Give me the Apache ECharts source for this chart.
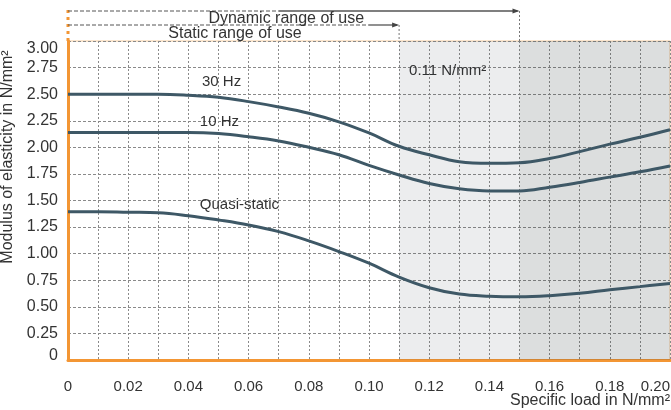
<!DOCTYPE html>
<html>
<head>
<meta charset="utf-8">
<script src="https://cdn.jsdelivr.net/npm/echarts@6/dist/echarts.min.js"></script>
<style>
  html, body { margin: 0; padding: 0; background: #fff; }
  #main { width: 671px; height: 410px; }
</style>
</head>
<body>
<div id="main"></div>
<script>
// specific load in N/mm2
var loads = [0, 0.01, 0.02, 0.03, 0.04, 0.05, 0.06, 0.07, 0.08, 0.09, 0.10,
             0.11, 0.12, 0.13, 0.14, 0.15, 0.16, 0.17, 0.18, 0.19, 0.20];
// modulus of elasticity in N/mm2
var hz30 = [2.50, 2.50, 2.50, 2.50, 2.49, 2.47, 2.43, 2.38, 2.32, 2.24, 2.135,
            2.01, 1.93, 1.865, 1.85, 1.855, 1.895, 1.96, 2.03, 2.095, 2.165];
var hz10 = [2.14, 2.14, 2.14, 2.14, 2.14, 2.13, 2.10, 2.06, 2.00, 1.93, 1.83,
            1.74, 1.66, 1.61, 1.59, 1.59, 1.625, 1.67, 1.72, 1.77, 1.825];
var quasiStatic = [1.395, 1.395, 1.39, 1.385, 1.357, 1.317, 1.27, 1.207, 1.12, 1.02, 0.91,
                   0.78, 0.68, 0.62, 0.60, 0.595, 0.605, 0.627, 0.66, 0.69, 0.72];
var seriesNames = ['30 Hz', '10 Hz', 'Quasi-static'];
// ranges of use (x values)
var staticLimit = 0.11;
var dynamicLimit = 0.15;
var xMax = 0.20;

var ORANGE = '#f39634';
var CURVE = '#3e5866';
var TEXT = '#333';
var FONT = 'Liberation Sans';

function pairs(ys) {
    return loads.map(function (x, i) { return [x, ys[i]]; });
}

var chart = echarts.init(document.getElementById('main'));

function curve(name, ys) {
    return {
        name: name,
        type: 'line',
        data: pairs(ys),
        smooth: 0.4,
        symbol: 'none',
        lineStyle: { color: CURVE, width: 3 },
        z: 3
    };
}

var shade = {
    type: 'line',
    data: [],
    silent: true,
    markArea: {
        silent: true,
        data: [
            [{ xAxis: staticLimit, itemStyle: { color: 'rgba(40,50,60,0.085)' } }, { xAxis: dynamicLimit }],
            [{ xAxis: dynamicLimit, itemStyle: { color: 'rgba(40,50,50,0.16)' } }, { xAxis: xMax }]
        ]
    }
};

chart.setOption({
    animation: false,
    textStyle: { fontFamily: FONT },
    grid: {
        left: 68, right: 1, top: 41, bottom: 50,
        containLabel: false,
        outerBoundsMode: 'none',
        show: true, borderColor: '#f4cb9c', borderWidth: 1
    },
    xAxis: {
        type: 'value',
        min: 0, max: xMax, interval: 0.01,
        axisLine: { lineStyle: { color: ORANGE, width: 3 } },
        axisTick: { show: false },
        axisLabel: {
            color: TEXT, fontSize: 15, margin: 19,
            alignMaxLabel: 'right',
            formatter: function (v) {
                var k = Math.round(v * 100);
                if (k % 2) return '';
                return k === 0 ? '0' : (k / 100).toFixed(2);
            }
        },
        splitLine: { show: true, lineStyle: { color: '#8a8a8a', type: [2, 2], width: 1 } }
    },
    yAxis: {
        type: 'value',
        min: 0, max: 3, interval: 0.25,
        name: 'Modulus of elasticity in N/mm²',
        nameLocation: 'middle',
        nameGap: 48,
        nameTextStyle: { color: TEXT, fontSize: 16, padding: [0, 0, 0, 87] },
        axisLine: { show: true, lineStyle: { color: ORANGE, width: 3 } },
        axisTick: { show: false },
        axisLabel: {
            color: TEXT, fontSize: 16, margin: 10,
            formatter: function (v) {
                if (v === 0) return '{bot|0}';
                if (v === 3) return '{top|3.00}';
                return v.toFixed(2);
            },
            rich: {
                top: { fontSize: 16, color: TEXT, padding: [16, 0, 0, 0] },
                bot: { fontSize: 16, color: TEXT, padding: [0, 0, 8, 0] }
            }
        },
        splitLine: { show: true, lineStyle: { color: '#8a8a8a', type: [3, 2], width: 1 } }
    },
    series: [
        shade,
        curve(seriesNames[0], hz30),
        curve(seriesNames[1], hz10),
        curve(seriesNames[2], quasiStatic)
    ]
});

// annotations placed from axis coordinates
function px(x, y) { return chart.convertToPixel({ gridIndex: 0 }, [x, y]); }
var x0 = px(0, 0)[0];
var xEnd = px(xMax, 0)[0];
var yAxisPos = px(0, 0)[1];
var plotTop = px(0, 3)[1];
var xStat = px(staticLimit, 0)[0];
var xDyn = px(dynamicLimit, 0)[0];
var yDyn = 11, yStat = 25;

function hline(x1, x2, y, dash, w) {
    return { type: 'line', shape: { x1: x1, y1: y, x2: x2, y2: y },
             style: { stroke: '#555', lineWidth: w || 1, lineDash: dash || null } };
}
function vline(x, y1, y2) {
    return { type: 'line', shape: { x1: x, y1: y1, x2: x, y2: y2 },
             style: { stroke: '#777', lineWidth: 1, lineDash: [2, 2] } };
}
function arrow(x, y) {
    return { type: 'polygon', shape: { points: [[x, y], [x - 7, y - 2.5], [x - 7, y + 2.5]] },
             style: { fill: '#444' } };
}
function label(text, x, y, align) {
    var p = px(x, y);
    return { type: 'text', x: p[0], y: p[1],
             style: { text: text, fill: TEXT, font: '15px "' + FONT + '"',
                      textAlign: align || 'left', textVerticalAlign: 'middle' } };
}

chart.setOption({
    graphic: [
        { type: 'line', shape: { x1: x0, y1: 10, x2: x0, y2: plotTop },
          style: { stroke: ORANGE, lineWidth: 3, lineDash: [3, 4] } },
        hline(x0, px(0.07, 0)[0], yDyn, [4, 2]),
        hline(px(0.07, 0)[0], xDyn - 2, yDyn, null, 1.3),
        arrow(xDyn, yDyn),
        vline(xDyn, yDyn, plotTop),
        hline(x0, px(0.10, 0)[0], yStat, [4, 2]),
        hline(px(0.10, 0)[0], xStat - 2, yStat, null, 1.3),
        arrow(xStat, yStat),
        vline(xStat, yStat, plotTop),
        { type: 'text', x: px(0.0725, 0)[0], y: 19,
          style: { text: 'Dynamic range of use', fill: TEXT, font: '16px "' + FONT + '"',
                   textAlign: 'center', textVerticalAlign: 'middle' } },
        { type: 'text', x: px(0.0555, 0)[0], y: 34,
          style: { text: 'Static range of use', fill: TEXT, font: '16px "' + FONT + '"',
                   textAlign: 'center', textVerticalAlign: 'middle' } },
        { type: 'text', x: xEnd, y: yAxisPos + 41,
          style: { text: 'Specific load in N/mm²', fill: TEXT, font: '16px "' + FONT + '"',
                   textAlign: 'right', textVerticalAlign: 'middle' } },
        label(seriesNames[0], 0.0445, 2.615),
        label(seriesNames[1], 0.0438, 2.24),
        label(seriesNames[2], 0.0438, 1.46),
        label('0.11 N/mm²', 0.1133, 2.72)
    ]
});
</script>
</body>
</html>
